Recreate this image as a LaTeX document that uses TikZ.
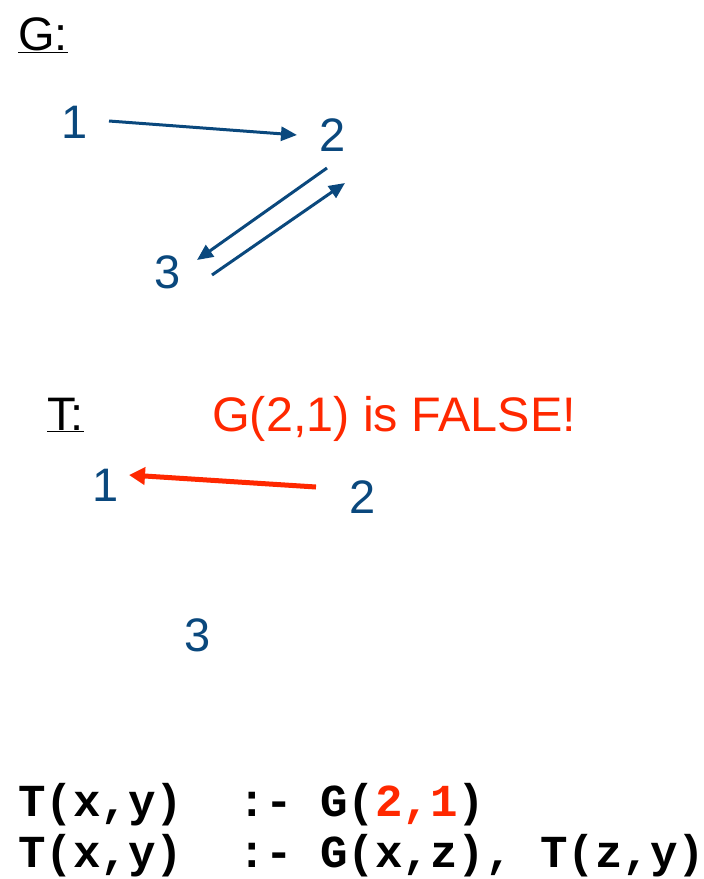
\documentclass[tikz,border=0pt]{standalone}
\usepackage{fontspec}
\setmainfont{Liberation Sans}
\newfontfamily\codefont{Liberation Mono}
\usetikzlibrary{arrows.meta}
\definecolor{nodeblue}{RGB}{10,72,125}
\definecolor{falsered}{RGB}{255,40,0}
\begin{document}
\begin{tikzpicture}[x=1pt,y=-1pt,
  vert/.style={inner sep=0pt,text=nodeblue,font=\fontsize{47}{47}\selectfont},
  lbl/.style={inner sep=0pt,anchor=base west,font=\fontsize{47}{47}\selectfont},
  code/.style={inner sep=0pt,anchor=base west,font=\codefont\bfseries\fontsize{45.8}{46}\selectfont},
  garrow/.style={draw=nodeblue,line width=3pt,-{Triangle[length=16pt,width=14pt]}},
  rarrow/.style={draw=falsered,line width=5pt,-{Triangle[length=16pt,width=17pt]}}]
\useasboundingbox (0,0) rectangle (704,879);
% G graph
\node[lbl] (glabel) at (18,50) {\underline{G:}};
\node[vert] (g1) at (75,122) {1};
\node[vert] (g2) at (333,135) {2};
\node[vert] (g3) at (168,272) {3};
\draw[garrow] ([shift={(34,-1)}]g1.center) -- ([shift={(-36,0)}]g2.center);
\draw[garrow] ([shift={(-6,33)}]g2.center) -- ([shift={(29,-12)}]g3.center);
\draw[garrow] ([shift={(44,3)}]g3.center) -- ([shift={(12,48)}]g2.center);
% T graph
\node[lbl] (tlabel) at (47,430) {\underline{T:}};
\node[lbl,text=falsered,font=\fontsize{48.5}{48}\selectfont] (false) at (212,431) {G(2,1) is FALSE!};
\node[vert] (t1) at (106,485) {1};
\node[vert] (t2) at (363,497) {2};
\node[vert] (t3) at (198,635) {3};
\draw[rarrow] ([shift={(-47,-10)}]t2.center) -- ([shift={(23,-10)}]t1.center);
% rules
\node[code] (rule1) at (18,816) {T(x,y)\ \ :-\ G(\textcolor{falsered}{2,1})};
\node[code] (rule2) at (18,867) {T(x,y)\ \ :-\ G(x,z),\ T(z,y)};
\end{tikzpicture}
\end{document}
